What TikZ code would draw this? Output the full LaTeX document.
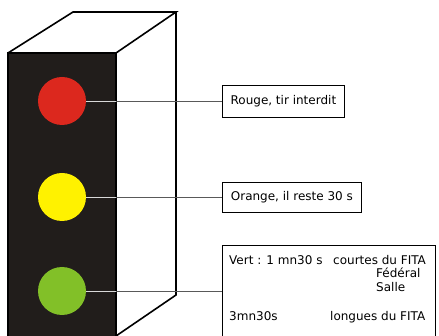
\documentclass[tikz,border=0pt]{standalone}
\usepackage{fontspec}
\setmainfont{DejaVu Sans}
\usetikzlibrary{positioning}
\definecolor{feurouge}{RGB}{220,40,30}
\definecolor{feujaune}{RGB}{255,242,0}
\definecolor{feuvert}{RGB}{130,192,40}
\definecolor{boitier}{RGB}{33,29,27}
\tikzset{
  arete/.style={line width=1.6pt,line join=miter},
  feu/.style={circle,minimum size=48pt,inner sep=0pt},
  legende/.style={draw,line width=0.8pt,inner sep=3pt,font=\fontsize{12}{14}\selectfont},
  texte/.style={anchor=base west,inner sep=0pt,font=\fontsize{12}{14}\selectfont},
  lien/.style={draw=black!65,line width=0.9pt},
  lienclair/.style={draw=white!85!black,line width=0.9pt}
}
\begin{document}
\begin{tikzpicture}[x=1pt,y=-1pt]
\useasboundingbox (0,0) rectangle (439,336);
% boitier du feu
\fill[boitier] (8,53) rectangle (116,345);
\draw[arete] (8,345)--(8,53)--(116,53)--(116,345);
\draw[arete] (8,53)--(73,12)--(176,12)--(116,53);
\draw[arete] (176,12)--(176,295)--(116,336);
\coordinate (face) at (116,0);
% les trois feux
\node[feu,fill=feurouge] (rouge) at (62,101) {};
\node[feu,fill=feujaune] (orange) at (62,197) {};
\node[feu,fill=feuvert] (vert) at (62,291) {};
% legendes
\node[legende,minimum width=122pt,minimum height=32pt,anchor=west] (txtrouge) at (222,101) {Rouge, tir interdit};
\node[legende,minimum width=139pt,minimum height=30pt,anchor=west] (txtorange) at (222,197) {Orange, il reste 30 s};
\node[legende,minimum width=213pt,minimum height=110pt,anchor=north west] (txtvert) at (222,245) {};
\node[texte] (v1) at (229,265) {Vert : 1 mn30 s};
\node[texte] (v2) at (333,265) {courtes du FITA};
\node[texte] (v3) at (376,278) {Fédéral};
\node[texte] (v4) at (376,292) {Salle};
\node[texte] (v5) at (229,321) {3mn30s};
\node[texte] (v6) at (330,321) {longues du FITA};
% liaisons
\draw[lien] (rouge.east) -- (txtrouge.west);
\draw[lienclair] (rouge.east) -- (rouge.east -| face);
\draw[lien] (orange.east) -- (txtorange.west);
\draw[lienclair] (orange.east) -- (orange.east -| face);
\draw[lien] (vert.east) -- (vert.east -| txtvert.west);
\draw[lienclair] (vert.east) -- (vert.east -| face);
\end{tikzpicture}
\end{document}
